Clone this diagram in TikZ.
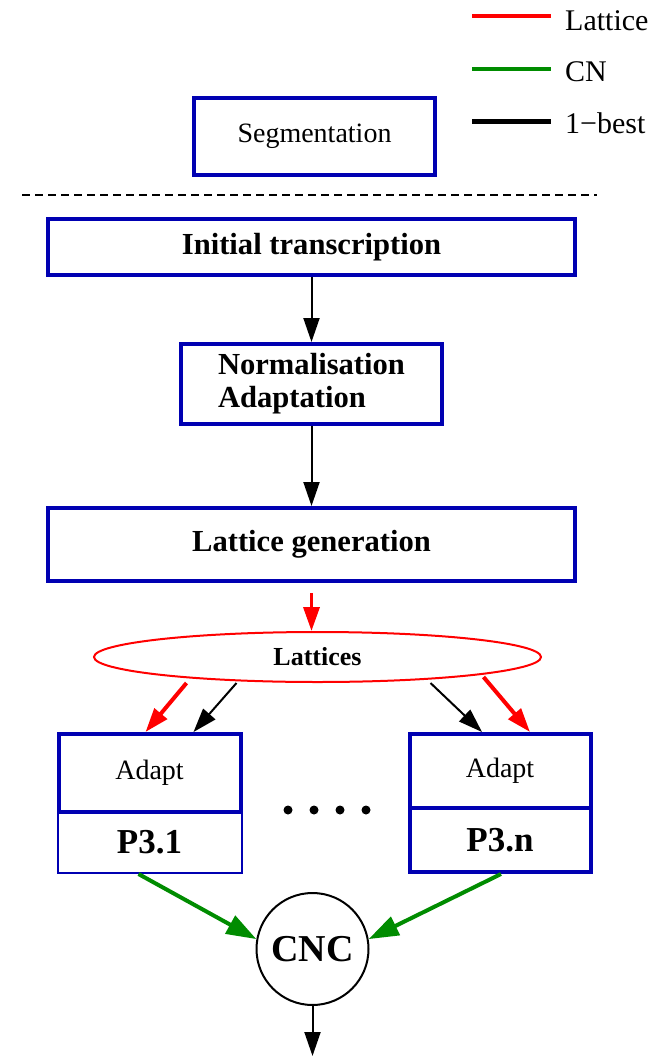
\documentclass[tikz,border=0pt]{standalone}
\usepackage{fontspec}
\setmainfont{Liberation Serif}
\usetikzlibrary{arrows.meta,positioning,shapes.geometric}
\definecolor{boxblue}{RGB}{0,0,178}
\definecolor{cngreen}{RGB}{0,140,0}

\tikzset{
  stage/.style={draw=boxblue,line width=4pt,inner sep=0pt,
    font=\fontsize{30.6}{33}\selectfont\bfseries},
  plainbox/.style={draw=boxblue,line width=4pt,inner sep=0pt,
    font=\fontsize{28}{30}\selectfont},
  tagbox/.style={draw=boxblue,inner sep=0pt,
    font=\fontsize{35}{36}\selectfont\bfseries},
  legtext/.style={anchor=base west,inner sep=0pt,
    font=\fontsize{30}{32}\selectfont},
  onebest/.style={-{Triangle[length=24pt,width=16pt]},line width=2pt},
  latflow/.style={red,-{Triangle[length=24pt,width=16pt]},line width=4pt},
  cnflow/.style={cngreen,-{Triangle[length=30pt,width=20pt]},line width=4pt}
}

\begin{document}
\begin{tikzpicture}[x=1pt,y=-1pt]
  \useasboundingbox (0,0) rectangle (667,1059);

  % legend
  \coordinate (lat-l) at (472,16);  \coordinate (lat-r) at (551,16);
  \coordinate (cn-l) at (472,69);   \coordinate (cn-r) at (551,69);
  \coordinate (best-l) at (472,122);\coordinate (best-r) at (551,122);
  \draw[red,line width=4pt] (lat-l) -- (lat-r);
  \draw[cngreen,line width=4pt] (cn-l) -- (cn-r);
  \draw[line width=5pt] (best-l) -- (best-r);
  \node (leg-lat) [legtext] at (565,31) {Lattice};
  \node (leg-cn) [legtext] at (565,82) {CN};
  \node (leg-best) [legtext] at (565,134) {1−best};

  % pre-processing
  \node (seg) [plainbox,minimum width=241pt,minimum height=77pt] at (314.5,136.5) {Segmentation};
  \coordinate (sep-l) at (22,195); \coordinate (sep-r) at (597,195);
  \draw[line width=2pt,dash pattern=on 8pt off 5pt] (sep-l) -- (sep-r);

  % first pass
  \node (init) [stage,minimum width=527pt,minimum height=56pt] at (311.5,247) {Initial transcription};
  \node (norm) [stage,minimum width=261pt,minimum height=80pt,align=left,below=65pt of init] {Normalisation\\Adaptation};
  \node (latgen) [stage,minimum width=527pt,minimum height=73pt,below=80pt of norm] {Lattice generation};
  \node (lattices) [ellipse,draw=red,line width=2pt,inner sep=0pt,minimum width=447pt,minimum height=50pt,
    font=\fontsize{26}{28}\selectfont\bfseries,below=48pt of latgen,xshift=6pt] {Lattices};

  % parallel systems
  \node (adapt1) [plainbox,minimum width=182pt,minimum height=78pt,below=49pt of lattices,xshift=-168pt] {Adapt};
  \node (p31) [tagbox,line width=2pt,minimum width=184pt,minimum height=61pt,below=-3pt of adapt1] {P3.1};
  \node (adapt2) [plainbox,minimum width=181pt,minimum height=74pt,below=49pt of lattices,xshift=182.5pt] {Adapt};
  \node (p3n) [tagbox,line width=4pt,minimum width=181pt,minimum height=64pt,below=-4pt of adapt2] {P3.n};
  \foreach \x in {288,314,340,366}
    \fill (\x,810) circle (4.5pt);

  % combination
  \node (cnc) [circle,draw,line width=2pt,inner sep=0pt,minimum size=112pt,
    font=\fontsize{38}{40}\selectfont\bfseries,below=209pt of lattices,xshift=-5pt] {CNC};
  \coordinate [below=50pt of cnc.south] (out);

  % connectors
  \draw[onebest] (init) -- (norm);
  \draw[onebest] (norm) -- (latgen);
  \draw[latflow,line width=3.5pt] ([yshift=-10pt]latgen.south) -- ([xshift=-6pt]lattices.north);
  \draw[latflow] ([xshift=-131pt]lattices.south) -- ([xshift=-4pt]adapt1.north);
  \draw[onebest] ([xshift=-81pt]lattices.south) -- ([xshift=44pt]adapt1.north);
  \draw[onebest] ([xshift=113pt]lattices.south) -- ([xshift=-18pt]adapt2.north);
  \draw[latflow] ([xshift=166pt,yshift=6pt]lattices.south) -- ([xshift=30pt]adapt2.north);
  \draw[cnflow] ([xshift=-11pt]p31.south) -- (cnc.170);
  \draw[cnflow] ([xshift=1pt]p3n.south) -- (cnc.10);
  \draw[onebest] (cnc) -- (out);
\end{tikzpicture}
\end{document}
